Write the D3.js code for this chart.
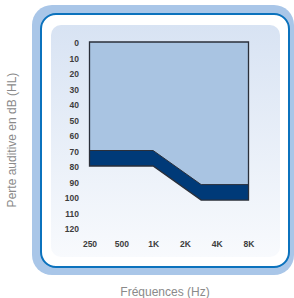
<!DOCTYPE html>
<html><head><meta charset="utf-8">
<script src="https://cdn.jsdelivr.net/npm/d3@7"></script>
<style>body{margin:0;background:#fff}svg{display:block}</style>
</head><body>
<svg id="c" width="294" height="298"></svg>
<script>
const freqTicks = [250, 500, 1000, 2000, 4000, 8000];
const freqLabels = ["250", "500", "1K", "2K", "4K", "8K"];
const dbTicks = [0, 10, 20, 30, 40, 50, 60, 70, 80, 90, 100, 110, 120];
const bandFreq = [250, 1000, 2850, 8000];
const upperDb = [70, 70, 92, 92];
const lowerDb = [80, 80, 102, 102];

const svg = d3.select("#c");
const defs = svg.append("defs");
const g = defs.append("linearGradient").attr("id","pg").attr("x1",0).attr("y1",0).attr("x2",0).attr("y2",1);
g.append("stop").attr("offset","0%").attr("stop-color","#d8e3f3");
g.append("stop").attr("offset","100%").attr("stop-color","#f8fafd");

svg.append("rect").attr("x",32).attr("y",5).attr("width",262).attr("height",270).attr("rx",20).attr("fill","#a9c6e8");
svg.append("rect").attr("x",41).attr("y",14).attr("width",248).attr("height",253).attr("rx",15).attr("fill","#fff").attr("stroke","#0b72bd").attr("stroke-width",2);
svg.append("rect").attr("x",51).attr("y",25).attr("width",229).attr("height",232).attr("rx",10).attr("fill","url(#pg)");

const x = d3.scaleLog().base(2).domain([250, 8000]).range([89.5, 248.5]);
const y = d3.scaleLinear().domain([0, 120]).range([42, 228]);

const pts = bandFreq.map((f,i)=>({f, u:upperDb[i], l:lowerDb[i]}));
const light = d3.area().x(d=>x(d.f)).y0(y(0)).y1(d=>y(d.u));
svg.append("path").datum(pts).attr("d", light).attr("fill","#a9c4e2");
const dark = d3.area().x(d=>x(d.f)).y0(d=>y(d.u)).y1(d=>y(d.l));
svg.append("path").datum(pts).attr("d", dark).attr("fill","#003a78");
svg.append("path").datum(pts).attr("d", d3.line().x(d=>x(d.f)).y(d=>y(d.u))).attr("fill","none").attr("stroke","#2a2f3a").attr("stroke-width",1);
const outline = [[x(250), y(lowerDb[0])],[x(250), y(0)],[x(8000), y(0)],[x(8000), y(lowerDb[3])]];
const lowerPts = pts.slice().reverse().map(d=>[x(d.f), y(d.l)]);
svg.append("path").attr("d", d3.line()(outline.concat(lowerPts)) + "Z").attr("fill","none").attr("stroke","#2a2f3a").attr("stroke-width",1.3).attr("stroke-linejoin","miter");

const yAxis = d3.axisLeft(y).tickValues(dbTicks).tickSize(0).tickPadding(0);
const ya = svg.append("g").attr("transform","translate(79,1.2)").call(yAxis);
ya.select(".domain").remove();
ya.selectAll("text").attr("font-family","Liberation Sans, Arial, sans-serif").attr("font-size",8.5).attr("font-weight","bold").attr("fill","#3d3d3d");

const xAxis = d3.axisBottom(x).tickValues(freqTicks).tickFormat((d,i)=>freqLabels[i]).tickSize(0).tickPadding(0);
const xa = svg.append("g").attr("transform","translate(0,240.5)").call(xAxis);
xa.select(".domain").remove();
xa.selectAll("text").attr("font-family","Liberation Sans, Arial, sans-serif").attr("font-size",8.5).attr("font-weight","bold").attr("fill","#3d3d3d");

svg.append("text").attr("x",165).attr("y",295.5).attr("text-anchor","middle")
  .attr("font-family","Liberation Sans, Arial, sans-serif").attr("font-size",12).attr("fill","#8a8a8a").text("Fréquences (Hz)");
svg.append("text").attr("transform","translate(16,140) rotate(-90)").attr("text-anchor","middle")
  .attr("font-family","Liberation Sans, Arial, sans-serif").attr("font-size",12).attr("fill","#8a8a8a").text("Perte auditive en dB (HL)");
</script>
</body></html>
